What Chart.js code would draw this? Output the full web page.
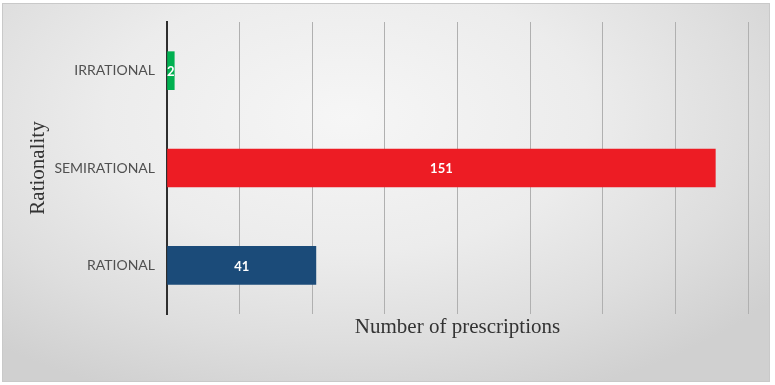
<!DOCTYPE html>
<html>
<head>
<meta charset="utf-8">
<script src="https://cdn.jsdelivr.net/npm/chart.js@4"></script>
<style>
  html, body { margin: 0; padding: 0; background: #ffffff; }
  #frame {
    position: absolute; left: 2px; top: 3px; width: 766px; height: 377px;
    border: 1px solid #c9c9c9;
    background: radial-gradient(ellipse 70% 80% at 45% 30%, #f6f6f6 0%, #ececec 45%, #dedede 75%, #d0d0d0 100%);
  }
  #wrap { position: absolute; left: 0; top: 0; width: 775px; height: 385px; }
</style>
</head>
<body>
<div id="frame"></div>
<div id="wrap"><canvas id="my_chart" width="775" height="385"></canvas></div>
<script>
// chart data
var categories = ['IRRATIONAL', 'SEMIRATIONAL', 'RATIONAL'];
var prescriptions = [2, 151, 41];
var bar_colors = ['#00b050', '#ed1c24', '#1b4b79'];

// white numbers in the middle of each bar
var barLabels = {
  id: 'barLabels',
  afterDatasetsDraw: function(chart) {
    var c = chart.ctx;
    var meta = chart.getDatasetMeta(0);
    c.save();
    c.fillStyle = '#ffffff';
    c.font = 'bold 13px Lato, "Open Sans", sans-serif';
    c.textAlign = 'center';
    c.textBaseline = 'middle';
    meta.data.forEach(function(bar, i) {
      var cx = (bar.x + bar.base) / 2;
      c.fillText(String(prescriptions[i]), cx, bar.y + 1);
    });
    c.restore();
  }
};

var ctx = document.getElementById('my_chart');
var my_chart = new Chart(ctx, {
  type: 'bar',
  data: {
    labels: categories,
    datasets: [{
      label: 'Number of prescriptions',
      data: prescriptions,
      backgroundColor: bar_colors,
      borderWidth: 0,
      barThickness: 38
    }]
  },
  plugins: [barLabels],
  options: {
    indexAxis: 'y',
    responsive: false,
    animation: false,
    layout: { padding: { left: 0, right: 27, top: 22, bottom: 45 } },
    plugins: {
      legend: { display: false },
      tooltip: { enabled: false }
    },
    scales: {
      x: {
        min: 0,
        max: 160,
        ticks: { display: false, stepSize: 20 },
        grid: { color: '#b0b0b0', lineWidth: 1, drawTicks: false },
        border: { display: false },
        title: {
          display: true,
          text: 'Number of prescriptions',
          color: '#333333',
          font: { family: '"Liberation Serif", "Times New Roman", serif', size: 21 },
          padding: { top: 0, bottom: 0 }
        },
        afterFit: function(s) { s.height = 26; }
      },
      y: {
        grid: { display: false, drawTicks: false },
        border: { display: true, color: '#2e2e2e', width: 2 },
        ticks: {
          color: '#505050',
          padding: 12,
          font: { family: 'Lato, "Open Sans", sans-serif', size: 14 }
        },
        title: {
          display: true,
          text: 'Rationality',
          color: '#333333',
          font: { family: '"Liberation Serif", "Times New Roman", serif', size: 21 },
          padding: { top: 26, bottom: 0 }
        },
        afterFit: function(s) { s.width = 167; }
      }
    }
  }
});
</script>
</body>
</html>
